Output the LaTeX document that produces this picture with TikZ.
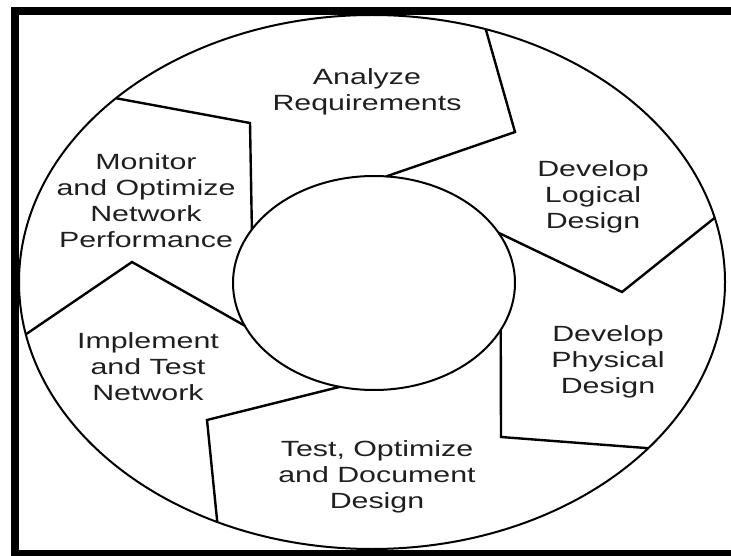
\documentclass[tikz,border=0pt]{standalone}
\usepackage{fontspec}
\setmainfont[FakeStretch=1.38]{Liberation Sans}

\begin{document}
\begin{tikzpicture}[x=1pt,y=1pt,
	stage/.style={align=center,text=black!88,font=\fontsize{22}{26}\selectfont},
	wall/.style={line width=2.4pt}]
	\useasboundingbox (0,0) rectangle (731,555);
	% rings
	\coordinate (outer) at (372,273);
	\coordinate (inner) at (374,272);
	\draw[line width=2pt] (outer) ellipse [x radius=353, y radius=267];
	\draw[line width=2pt] (inner) ellipse [x radius=141, y radius=107];
	% walls: outer end, bend, inner end
	\foreach \i/\ao/\bx/\by/\ai in {1/136.5/250/432/150, 2/71.2/515/423/85, 3/13.9/622/263/28,
		4/-38.5/501/118/-26, 5/-116/207/135/-104, 6/-168.7/132/293/-156.5} {
		\coordinate (o\i) at ([shift={(outer)}]\ao:353 and 267);
		\coordinate (k\i) at (\bx,\by);
		\coordinate (n\i) at ([shift={(inner)}]\ai:141 and 107);
		\draw[wall] (o\i) -- (k\i) -- (n\i);
	}
	\node[stage] (analyze) at (367,463) {Analyze\\Requirements};
	\node[stage] (logical) at (593,358) {Develop\\Logical\\Design};
	\node[stage] (physical) at (608,193) {Develop\\Physical\\Design};
	\node[stage] (test) at (377,78) {Test, Optimize\\and Document\\Design};
	\node[stage] (implement) at (148,188) {Implement\\and Test\\Network};
	\node[stage] (monitor) at (146,354) {Monitor\\and Optimize\\Network\\Performance};
	% frame
	\draw[line width=8pt] (15,1) rectangle (740,544);
\end{tikzpicture}
\end{document}
